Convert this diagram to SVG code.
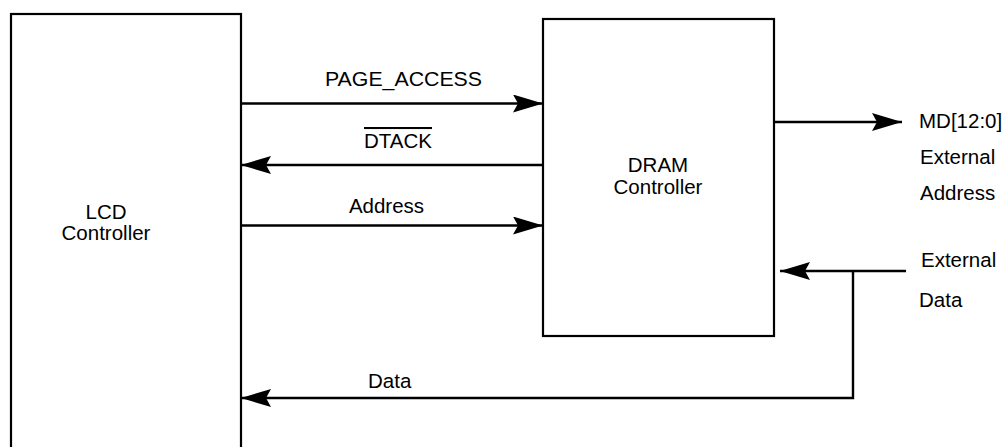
<svg xmlns="http://www.w3.org/2000/svg" width="1007" height="447" viewBox="0 0 1007 447">
<style>
.box{fill:#fff;stroke:#000;stroke-width:2.2}
.w{fill:none;stroke:#000;stroke-width:2.4}
text{font-family:"Liberation Sans",Arial,sans-serif;font-size:20.5px;fill:#000}
.c{text-anchor:middle}
</style>
<defs>
<marker id="arr" markerWidth="30" markerHeight="18" refX="30" refY="9" orient="auto" markerUnits="userSpaceOnUse" viewBox="0 0 30 18">
<path d="M0,0 L30,9 L0,18 L5,9 Z" fill="#000"/>
</marker>
</defs>
<rect width="1007" height="447" fill="#fff"/>
<g id="lcd">
<rect class="box" x="11" y="14" width="230" height="450"/>
<text class="c" x="106" y="219">LCD</text>
<text class="c" x="106" y="240">Controller</text>
</g>
<g id="dram">
<rect class="box" x="543" y="19" width="231" height="317"/>
<text class="c" x="658" y="172">DRAM</text>
<text class="c" x="658" y="194">Controller</text>
</g>
<g id="connectors">
<path class="w" d="M241,103.5 H543" marker-end="url(#arr)"/>
<path class="w" d="M543,165 H241" marker-end="url(#arr)"/>
<path class="w" d="M241,225.5 H543" marker-end="url(#arr)"/>
<path class="w" d="M774,122 H902" marker-end="url(#arr)"/>
<path class="w" d="M906,271 H780" marker-end="url(#arr)"/>
<path class="w" d="M853,271 V398 H241" marker-end="url(#arr)"/>
</g>
<g id="labels">
<text class="c" x="403.5" y="86" textLength="157" lengthAdjust="spacingAndGlyphs">PAGE_ACCESS</text>
<text class="c" x="398" y="148"><tspan text-decoration="overline">DTACK</tspan></text>
<text class="c" x="386.5" y="212.5">Address</text>
<text x="368" y="388">Data</text>
<text x="919" y="127.5">MD[12:0]</text>
<text x="920" y="164">External</text>
<text x="920" y="200">Address</text>
<text x="921" y="267">External</text>
<text x="919" y="307">Data</text>
</g>
</svg>
